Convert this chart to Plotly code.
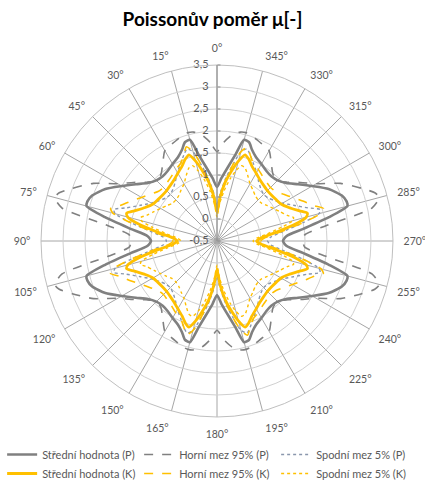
import plotly.graph_objects as go

# Angles (deg) of one quadrant; the chart is symmetric about both axes
theta_q = [0, 4, 8, 12, 15, 18, 21, 25, 30, 35, 40, 45, 50, 55, 60, 65, 70, 73, 75, 78, 82, 86, 90]

p_mean  = [0.73, 0.93, 1.17, 1.50, 1.88, 1.86, 1.72, 1.60, 1.52, 1.45, 1.42, 1.45, 1.55, 1.75, 2.00, 2.30, 2.52, 2.58, 2.57, 2.10, 1.48, 1.08, 1.00]
p_upper = [1.53, 1.75, 1.93, 2.03, 2.05, 2.03, 1.98, 1.93, 1.87, 1.65, 1.48, 1.44, 1.58, 1.82, 2.10, 2.60, 3.00, 3.25, 3.32, 3.10, 2.00, 1.50, 1.45]
p_lower = [0.30, 0.60, 0.95, 1.30, 1.60, 1.70, 1.60, 1.45, 1.30, 1.15, 1.05, 1.00, 1.02, 1.10, 1.22, 1.42, 1.70, 1.95, 1.90, 1.50, 1.00, 0.72, 0.65]
k_mean  = [0.15, 0.50, 0.85, 1.15, 1.38, 1.56, 1.50, 1.38, 1.28, 1.20, 1.15, 1.12, 1.12, 1.14, 1.18, 1.30, 1.50, 1.65, 1.60, 1.30, 0.82, 0.50, 0.40]
k_upper = [0.12, 0.50, 0.90, 1.30, 1.60, 1.75, 1.60, 1.45, 1.38, 1.30, 1.25, 1.22, 1.25, 1.35, 1.48, 1.65, 1.85, 2.03, 1.95, 1.50, 0.95, 0.60, 0.50]
k_lower = [0.05, 0.35, 0.65, 0.95, 1.15, 1.30, 1.28, 1.15, 1.00, 0.92, 0.85, 0.82, 0.83, 0.90, 0.98, 1.08, 1.20, 1.32, 1.28, 1.00, 0.65, 0.40, 0.32]

angle_ticks = list(range(0, 360, 15))
angle_labels = [f"{a}°" for a in angle_ticks]
r_ticks = [-0.5, 0, 0.5, 1, 1.5, 2, 2.5, 3, 3.5]
r_labels = ["-0,5", "0", "0,5", "1", "1,5", "2", "2,5", "3", "3,5"]

names = ["Střední hodnota (P)", "Horní mez 95% (P)", "Spodní mez 5% (P)",
         "Střední hodnota (K)", "Horní mez 95% (K)", "Spodní mez 5% (K)"]
series = [p_mean, p_upper, p_lower, k_mean, k_upper, k_lower]
colors = ["#808080", "#808080", "#8a97ad", "#FFC000", "#FFC000", "#FFC000"]
dashes = ["solid", "dash", "dot", "solid", "dash", "dot"]
widths = [2.6, 1.6, 1.4, 2.8, 1.6, 1.4]


def mirror(vals):
    pts = list(zip(theta_q, vals))
    th, rr = [], []
    for t, v in pts:                      # 0..90
        th.append(t); rr.append(v)
    for t, v in reversed(pts[:-1]):       # 90..180
        th.append(180 - t); rr.append(v)
    for t, v in pts[1:]:                  # 180..270
        th.append(180 + t); rr.append(v)
    for t, v in reversed(pts[:-1]):       # 270..360
        th.append(360 - t); rr.append(v)
    return th, rr


fig = go.Figure()
for name, vals, c, d, w in zip(names, series, colors, dashes, widths):
    th, rr = mirror(vals)
    fig.add_trace(go.Scatterpolar(
        r=rr, theta=th, mode="lines", name=name,
        line=dict(color=c, dash=d, width=w, shape="spline", smoothing=0.6),
        hoverinfo="skip"))

# radial tick labels, placed left of the 0° spoke through the polar scale
pad = "\u00a0\u00a0\u00a0"
fig.add_trace(go.Scatterpolar(
    r=r_ticks, theta=[0] * len(r_ticks), mode="text", text=[s + pad for s in r_labels],
    textposition="middle left", textfont=dict(size=11, color="#595959"),
    showlegend=False, hoverinfo="skip", cliponaxis=False))

H_PLOT = 431  # 481 minus bottom margin
fig.update_layout(
    width=425, height=481,
    margin=dict(l=0, r=0, t=0, b=50, autoexpand=False),
    paper_bgcolor="white",
    font=dict(family="Lato, Open Sans, sans-serif", color="#595959"),
    title=dict(text="<b>Poissonův poměr μ[-]</b>", x=0.5, xanchor="center",
               y=0.96, yanchor="middle",
               font=dict(size=19, color="#000000", family="Lato, Open Sans, sans-serif")),
    polar=dict(
        domain=dict(x=[0.0965, 0.9247], y=[(H_PLOT - 417) / H_PLOT, (H_PLOT - 65) / H_PLOT]),
        bgcolor="white",
        angularaxis=dict(
            direction="counterclockwise", rotation=90,
            tickmode="array", tickvals=angle_ticks, ticktext=angle_labels,
            showgrid=True, gridcolor="#a6a6a6", gridwidth=1,
            showline=True, linecolor="#bfbfbf", linewidth=1,
            ticks="outside", ticklen=8, tickcolor="rgba(0,0,0,0)",
            tickfont=dict(size=10.5, color="#595959")),
        radialaxis=dict(
            range=[-0.5, 3.5], tickmode="array", tickvals=r_ticks,
            angle=90, showticklabels=False,
            showgrid=True, gridcolor="#d0d0d0", gridwidth=1,
            showline=True, linecolor="#8c8c8c", linewidth=1,
            ticks="outside", ticklen=3, tickcolor="#8c8c8c"),
    ),
    showlegend=True,
    legend=dict(orientation="h", x=0.005, xanchor="left",
                y=(H_PLOT - 440) / H_PLOT, yanchor="top",
                font=dict(size=11, color="#595959"),
                entrywidth=92, entrywidthmode="pixels",
                itemwidth=30, tracegroupgap=0, bgcolor="rgba(0,0,0,0)"),
)

fig.write_html("out.html", config={"displayModeBar": False},
               post_script="document.body.style.margin='0';")
